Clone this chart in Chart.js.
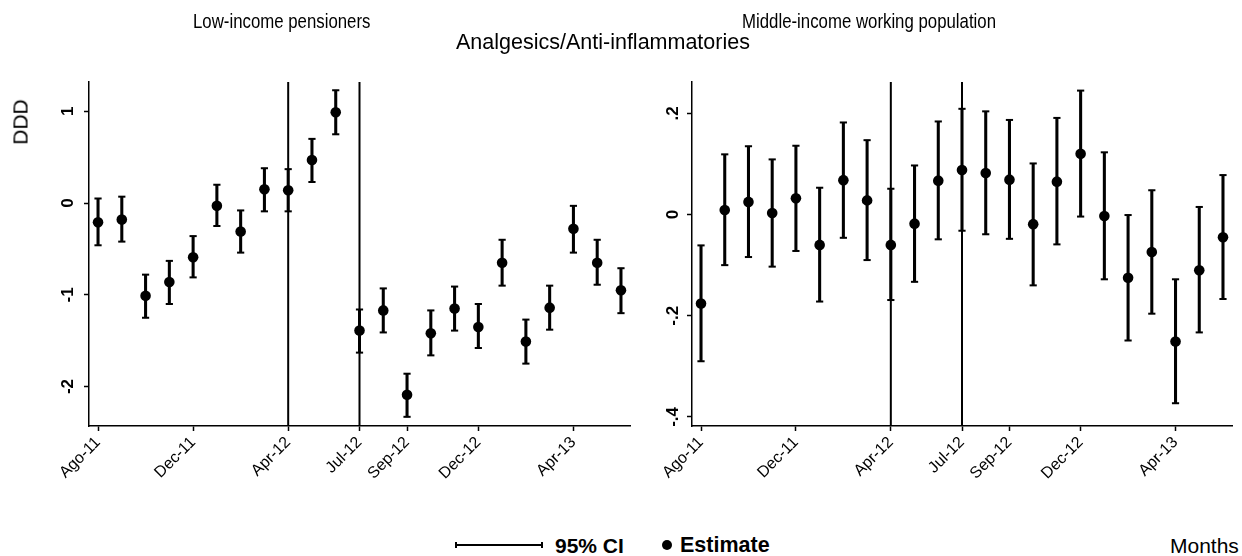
<!DOCTYPE html>
<html>
<head>
<meta charset="utf-8">
<script src="https://cdn.jsdelivr.net/npm/chart.js@4.4.1/dist/chart.umd.min.js"></script>
<style>
  html, body { margin: 0; padding: 0; background: #fff; }
  body { width: 1242px; height: 556px; position: relative; overflow: hidden;
         font-family: "Liberation Sans", Arial, Helvetica, sans-serif; color: #000; }
  .t { position: absolute; white-space: nowrap; line-height: 1; }
  .narrow { transform: scaleX(0.8); transform-origin: 0 50%; }
  canvas { position: absolute; top: 0; }
  #lowIncome { left: 0; }
  #midIncome { left: 640px; }
</style>
</head>
<body>
<canvas id="lowIncome" width="640" height="510"></canvas>
<canvas id="midIncome" width="602" height="510"></canvas>

<div class="t narrow" style="left:193px;top:10px;font-size:21px;">Low-income pensioners</div>
<div class="t narrow" style="left:742px;top:10px;font-size:21px;">Middle-income working population</div>
<div class="t" style="left:456px;top:32px;font-size:21.5px;">Analgesics/Anti-inflammatories</div>
<div class="t" style="left:20px;top:122px;font-size:21px;transform:translate(-50%,-50%) rotate(-90deg);">DDD</div>

<!-- legend -->
<div style="position:absolute;left:455px;top:544px;width:88px;height:2px;background:#000;"></div>
<div style="position:absolute;left:455px;top:542px;width:2px;height:6px;background:#000;"></div>
<div style="position:absolute;left:541px;top:542px;width:2px;height:6px;background:#000;"></div>
<div class="t" style="left:555px;top:535px;font-size:21px;font-weight:bold;">95% CI</div>
<div style="position:absolute;left:662px;top:540px;width:10px;height:10px;border-radius:50%;background:#000;"></div>
<div class="t" style="left:680px;top:535px;font-size:21.5px;font-weight:bold;">Estimate</div>
<div class="t" style="left:1170px;top:535px;font-size:21px;">Months</div>

<script>
// Monthly periods, August 2011 to June 2013
const months = ['Ago-11','Sep-11','Oct-11','Nov-11','Dec-11','Jan-12','Feb-12','Mar-12',
                'Apr-12','May-12','Jun-12','Jul-12','Aug-12','Sep-12','Oct-12','Nov-12',
                'Dec-12','Jan-13','Feb-13','Mar-13','Apr-13','May-13','Jun-13'];
const xTickLabels = ['Ago-11','Dec-11','Apr-12','Jul-12','Sep-12','Dec-12','Apr-13'];
const markerMonths = ['Apr-12','Jul-12'];

// Low-income pensioners: estimate and 95% CI
const lowEst = [-0.21, -0.18, -1.01, -0.86, -0.59, -0.03, -0.31, 0.15, 0.14, 0.47, 0.99, -1.39,
                -1.17, -2.09, -1.42, -1.15, -1.35, -0.65, -1.51, -1.14, -0.28, -0.65, -0.95];
const lowLo  = [-0.46, -0.42, -1.25, -1.10, -0.81, -0.25, -0.54, -0.09, -0.09, 0.23, 0.75, -1.63,
                -1.41, -2.33, -1.66, -1.39, -1.58, -0.90, -1.75, -1.38, -0.54, -0.89, -1.20];
const lowHi  = [0.05, 0.07, -0.78, -0.63, -0.36, 0.20, -0.08, 0.38, 0.37, 0.70, 1.23, -1.16,
                -0.93, -1.86, -1.17, -0.91, -1.10, -0.40, -1.27, -0.90, -0.03, -0.40, -0.71];
const lowYTicks = [-2, -1, 0, 1];
const lowYLabels = ['-2', '-1', '0', '1'];

// Middle-income working population: estimate and 95% CI
const midEst = [-0.176, 0.009, 0.025, 0.003, 0.032, -0.060, 0.068, 0.028, -0.060, -0.018, 0.067, 0.088,
                0.082, 0.069, -0.019, 0.065, 0.120, -0.003, -0.125, -0.074, -0.251, -0.110, -0.045];
const midLo  = [-0.290, -0.100, -0.084, -0.103, -0.072, -0.172, -0.046, -0.090, -0.169, -0.133, -0.049, -0.032,
                -0.039, -0.048, -0.140, -0.059, -0.004, -0.128, -0.249, -0.196, -0.373, -0.233, -0.167];
const midHi  = [-0.061, 0.119, 0.135, 0.109, 0.136, 0.053, 0.182, 0.147, 0.051, 0.097, 0.184, 0.209,
                0.204, 0.187, 0.101, 0.191, 0.245, 0.123, -0.001, 0.048, -0.128, 0.015, 0.078];
const midYTicks = [-0.4, -0.2, 0, 0.2];
const midYLabels = ['-.4', '-.2', '0', '.2'];

const INK = '#000';
const FONT = '"Liberation Sans", Arial, Helvetica, sans-serif';

function buildPanel(canvasId, est, lo, hi, yRange, yTicks, yLabels, layoutCfg) {
  const xTickPos = xTickLabels.map(m => months.indexOf(m));
  const datasets = [];

  // estimates (drawn on top)
  datasets.push({
    type: 'scatter', order: 0,
    data: est.map((v, i) => ({ x: i, y: v })),
    pointRadius: 5.3, pointHoverRadius: 5.3,
    backgroundColor: INK, borderWidth: 0
  });
  // CI caps
  datasets.push({
    type: 'scatter', order: 1,
    data: lo.map((v, i) => ({ x: i, y: v })).concat(hi.map((v, i) => ({ x: i, y: v }))),
    pointStyle: 'line', pointRadius: 3.6, pointHoverRadius: 3.6,
    borderColor: INK, borderWidth: 2
  });
  // CI whiskers as floating bars
  datasets.push({
    type: 'bar', order: 2,
    data: lo.map((v, i) => ({ x: i, y: [v, hi[i]] })),
    backgroundColor: INK, borderWidth: 0, barThickness: 2.4, grouped: false
  });
  // policy reference lines
  markerMonths.forEach(m => {
    const p = months.indexOf(m);
    datasets.push({
      type: 'line', order: 3,
      data: [{ x: p, y: yRange[0] }, { x: p, y: yRange[1] }],
      borderColor: INK, borderWidth: 2, pointRadius: 0, fill: false
    });
  });

  return new Chart(document.getElementById(canvasId), {
    type: 'scatter',
    data: { datasets },
    options: {
      responsive: false,
      animation: false,
      events: [],
      layout: { autoPadding: false, padding: { top: 82, left: 0, right: layoutCfg.padRight, bottom: 0 } },
      plugins: { legend: { display: false }, tooltip: { enabled: false }, title: { display: false } },
      scales: {
        x: {
          type: 'linear', min: -0.38, max: 22.38, offset: false,
          afterBuildTicks: s => { s.ticks = xTickPos.map(v => ({ value: v })); },
          afterFit: s => { s.height = 84; },
          grid: { offset: false, drawOnChartArea: false, drawTicks: true, tickLength: 5, tickWidth: 1.5, tickColor: INK },
          border: { display: true, color: INK, width: 1.5 },
          ticks: {
            autoSkip: false, minRotation: 45, maxRotation: 45, padding: 2,
            color: INK, font: { family: FONT, size: 16 },
            callback: (v, i) => xTickLabels[i]
          }
        },
        y: {
          type: 'linear', min: yRange[0], max: yRange[1], bounds: 'data',
          afterBuildTicks: s => { s.ticks = yTicks.map(v => ({ value: v })); s.min = yRange[0]; s.max = yRange[1]; },
          afterFit: s => { s.width = layoutCfg.yWidth; },
          grid: { offset: false, drawOnChartArea: false, drawTicks: true, tickLength: 5, tickWidth: 1.5, tickColor: INK },
          border: { display: true, color: INK, width: 1.5 },
          ticks: {
            minRotation: 90, maxRotation: 90, crossAlign: 'center', padding: layoutCfg.tickPad,
            color: INK, font: { family: FONT, size: 17, weight: 'bold' },
            callback: (v, i) => yLabels[i]
          }
        }
      }
    }
  });
}

buildPanel('lowIncome', lowEst, lowLo, lowHi, [-2.43, 1.32], lowYTicks, lowYLabels,
           { yWidth: 89, padRight: 10, tickPad: 8 });
buildPanel('midIncome', midEst, midLo, midHi, [-0.418, 0.262], midYTicks, midYLabels,
           { yWidth: 52, padRight: 10, tickPad: 4 });
</script>
</body>
</html>
